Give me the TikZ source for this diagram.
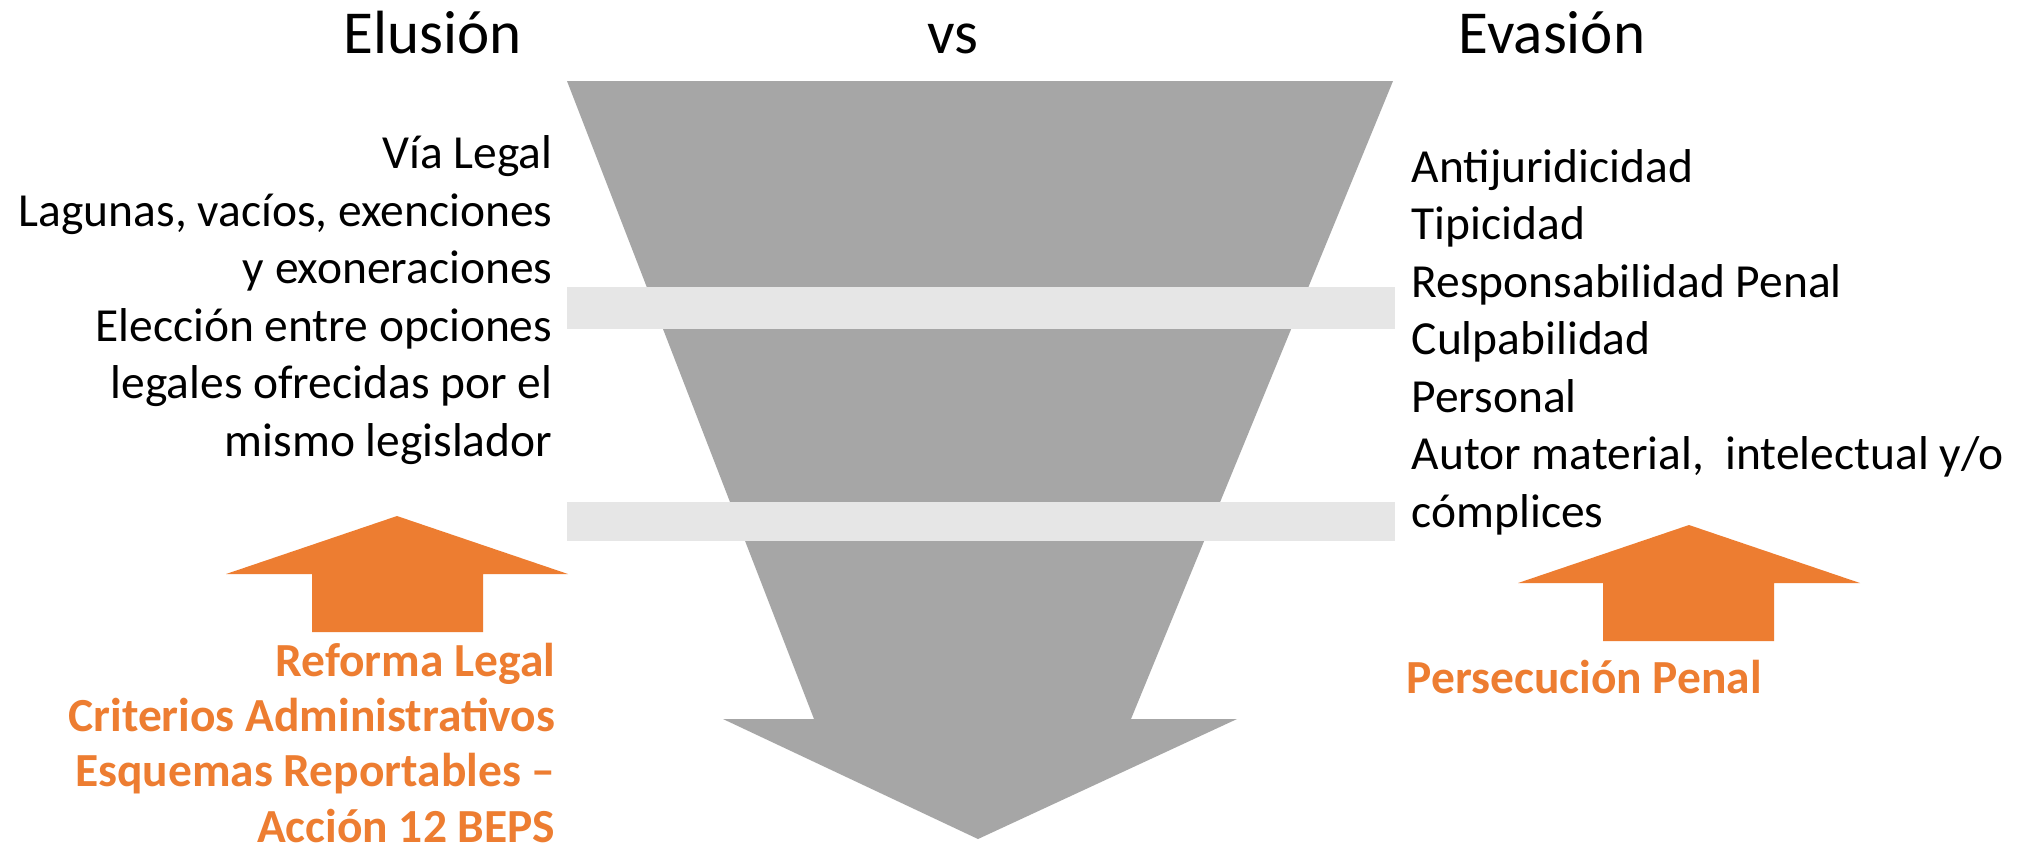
\documentclass[tikz,border=0pt]{standalone}
\usepackage{fontspec}
\setmainfont{Carlito}
\definecolor{funnelgray}{HTML}{A6A6A6}
\definecolor{bandgray}{HTML}{E6E6E6}
\definecolor{accent}{HTML}{ED7D31}
\begin{document}
\begin{tikzpicture}[x=0.01cm,y=-0.01cm,
  titletext/.style={font=\fontsize{17.36pt}{20pt}\selectfont, inner sep=0, anchor=base},
  bodytext/.style={font=\fontsize{13.5pt}{16.33pt}\selectfont, inner sep=0},
  accenttext/.style={font=\fontsize{13.5pt}{15.65pt}\selectfont\bfseries, text=accent, inner sep=0},
  funnelshape/.style={fill=funnelgray},
  bandshape/.style={fill=bandgray},
  uparrow/.style={fill=accent}]
\useasboundingbox (0,0) rectangle (2039,853);
\fill[white] (0,0) rectangle (2039,853);
% funnel arrow
\fill[funnelshape] (567,81) -- (1393,81) -- (1131,719) -- (1237,719) -- (978,839) -- (723,719) -- (814,719) -- cycle;
% bands
\fill[bandshape] (567,287) rectangle (1395,329);
\fill[bandshape] (567,502) rectangle (1395,541);
% orange up arrows
\fill[uparrow] (397,516) -- (568,574) -- (483,574) -- (483,632) -- (312,632) -- (312,574) -- (226,574) -- cycle;
\fill[uparrow] (1689,525) -- (1860,583) -- (1774,583) -- (1774,641) -- (1603,641) -- (1603,583) -- (1518,583) -- cycle;
% titles
\node[titletext] (elusion) at (433,53) {Elusión};
\node[titletext] (vs) at (953,53) {vs};
\node[titletext] (evasion) at (1552,53) {Evasión};
% left text (anchor = baseline of last line)
\node[bodytext, align=right, anchor=base east] (leftlist) at (553,456) {Vía Legal\\Lagunas, vacíos, exenciones\\y exoneraciones\\Elección entre opciones\\legales ofrecidas por el\\mismo legislador};
% right text
\node[bodytext, align=left, anchor=base west] (rightlist) at (1411,527) {Antijuridicidad\\Tipicidad\\Responsabilidad Penal\\Culpabilidad\\Personal\\Autor material,\ \ intelectual y/o\\cómplices};
% orange texts
\node[accenttext, align=right, anchor=base east] (reforma) at (556,842) {Reforma Legal\\Criterios Administrativos\\Esquemas Reportables –\\Acción 12 BEPS};
\node[accenttext, anchor=base west] (persecucion) at (1406,693) {Persecución Penal};
\end{tikzpicture}
\end{document}
